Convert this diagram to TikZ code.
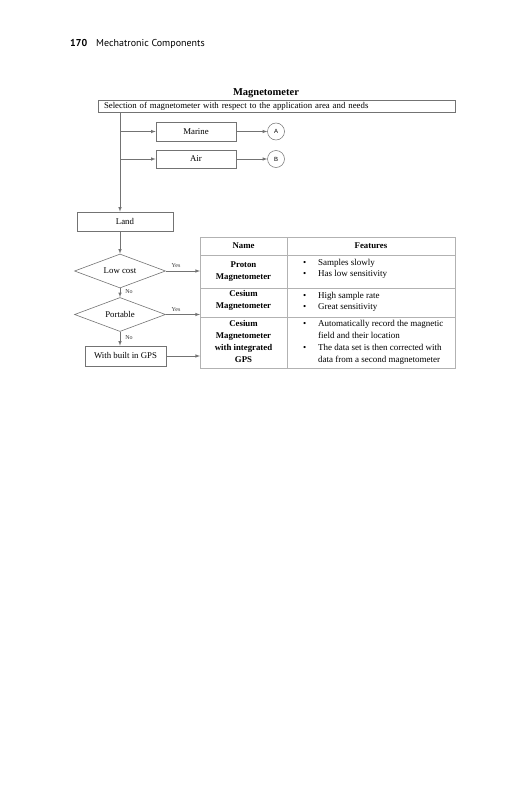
\documentclass[tikz,border=0pt]{standalone}
\usepackage{fontspec}
\setmainfont{Liberation Serif}
\newfontfamily\headfont{PT Sans}
\newfontfamily\circfont{Liberation Sans}
\usetikzlibrary{shapes.geometric, positioning, calc}
\definecolor{linegray}{gray}{0.45}
\definecolor{boxgray}{gray}{0.45}
\definecolor{tablegray}{gray}{0.7}
\tikzset{
    boxnode/.style = {draw=boxgray, rectangle, inner sep=0em, line width=0.6pt, font=\fontsize{8.8}{10}\selectfont},
    decisionnode/.style = {draw=boxgray, diamond, aspect=2.7, inner sep=0em, line width=0.6pt,
      minimum width=91pt, minimum height=34pt, font=\fontsize{8.8}{10}\selectfont},
    circlenode/.style = {circle, draw=boxgray, inner sep=0em, line width=0.5pt, minimum size=17pt,
      font=\circfont\fontsize{6}{7}\selectfont},
    textnode/.style = {draw=none, fill=none, rectangle, inner sep=0em, font=\fontsize{8.8}{10}\selectfont},
    smalltextnode/.style = {draw=none, fill=none, rectangle, inner sep=0em, text=black!80,
      font=\fontsize{6}{7}\selectfont},
    namenode/.style = {textnode, align=center, font=\bfseries\fontsize{8.8}{12}\selectfont},
    featnode/.style = {textnode, align=left, anchor=north west, font=\fontsize{9}{11.7}\selectfont},
    connect/.style = {linegray, line width=0.6pt, -latex},
    tableline/.style = {tablegray, line width=0.6pt}
}
\newcommand{\bul}{\makebox[15pt][l]{\textbullet}}
\newcommand{\bulgap}{\hspace*{15pt}}

\begin{document}
\begin{tikzpicture}[x=1pt, y=-1pt]
    \useasboundingbox (0,0) rectangle (531,800);

    % page head and title
    \node [textnode, anchor=west, font=\headfont\fontsize{10}{12}\selectfont, name=PageHead] at (70,44)
        {\textbf{170}\hspace{9pt}Mechatronic Components};
    \node [textnode, name=Title, font=\bfseries\fontsize{10.5}{12}\selectfont] at (266,93) {Magnetometer};
    \node [boxnode, name=Select, minimum width=357pt, minimum height=11.5pt, inner xsep=6pt,
        text width=345pt, align=left] at (276.5,106.5)
        {Selection of magnetometer with respect to the application area and needs};

    % branches
    \coordinate (Spine) at (120,0);
    \node [boxnode, name=Marine, minimum width=80pt, minimum height=19pt] at (196,131.5) {Marine};
    \node [boxnode, name=Air, minimum width=80pt, minimum height=18pt] at (196,159) {Air};
    \node [circlenode, name=CircA, right of=Marine, node distance=80pt] {A};
    \node [circlenode, name=CircB, right of=Air, node distance=80pt] {B};
    \node [boxnode, name=Land, minimum width=96pt, minimum height=19pt] at (125,221.5) {Land};

    % decisions
    \node [decisionnode, name=LowCost] at (120,271) {Low cost};
    \node [decisionnode, name=Portable] at (120,314.5) {Portable};
    \node [boxnode, name=GPS, minimum width=81pt, minimum height=20pt] at (125.5,356) {With built in GPS};

    \draw [connect] (Select.south -| Spine) -- (Land.north -| Spine);
    \draw [connect] (Marine.west -| Spine) -- (Marine.west);
    \draw [connect] (Air.west -| Spine) -- (Air.west);
    \draw [connect] (Marine.east) -- (CircA.west);
    \draw [connect] (Air.east) -- (CircB.west);
    \draw [connect] (Land.south -| Spine) -- (LowCost.north);
    \draw [connect] (LowCost.south) -- node[smalltextnode, right=5pt, pos=0.35] {No} (Portable.north);
    \draw [connect] (Portable.south) -- node[smalltextnode, right=5pt, pos=0.38] {No} (GPS.north -| Spine);

    % table
    \coordinate (TableNW) at (200,237);
    \coordinate (TableSE) at (455,368);
    \coordinate (ColSplit) at (287,0);
    \draw [tableline] (TableNW) rectangle (TableSE);
    \foreach \y in {255.5, 288, 317}
        \draw [tableline] (TableNW |- 0,\y) -- (TableSE |- 0,\y);
    \draw [tableline] (ColSplit |- TableNW) -- (ColSplit |- TableSE);

    \draw [connect] (LowCost.east) -- node[smalltextnode, above=3pt, pos=0.3] {Yes} (LowCost.east -| TableNW);
    \draw [connect] (Portable.east) -- node[smalltextnode, above=3pt, pos=0.3] {Yes} (Portable.east -| TableNW);
    \draw [connect] (GPS.east) -- (GPS.east -| TableNW);

    \node [namenode, name=NameHead] at (243.5,246) {Name};
    \node [namenode, name=FeatHead] at (371,246) {Features};
    \node [namenode, name=Proton] at (243.5,272) {Proton\\Magnetometer};
    \node [namenode, name=Cesium] at (243.5,300.5) {Cesium\\Magnetometer};
    \node [namenode, name=CesiumGPS] at (243.5,341) {Cesium\\Magnetometer\\with integrated\\GPS};

    \node [featnode, name=FeatProtonA] at (303,259) {\bul Samples slowly};
    \node [featnode, name=FeatProtonB] at (303,270) {\bul Has low sensitivity};
    \node [featnode, name=FeatCesiumA] at (303,292) {\bul High sample rate};
    \node [featnode, name=FeatCesiumB] at (303,303) {\bul Great sensitivity};
    \node [featnode, name=FeatGPSA] at (303,320) {\bul Automatically record the magnetic\\\bulgap field and their location};
    \node [featnode, name=FeatGPSB] at (303,344) {\bul The data set is then corrected with\\\bulgap data from a second magnetometer};
\end{tikzpicture}
\end{document}
